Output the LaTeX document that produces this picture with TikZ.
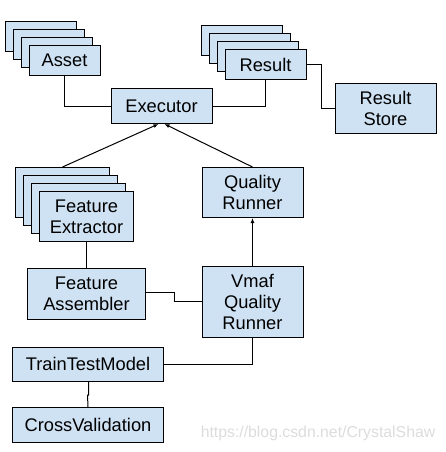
\documentclass[tikz,border=0pt]{standalone}
\usepackage{fontspec}
\setmainfont{Liberation Sans}
\usetikzlibrary{arrows.meta}
\definecolor{boxfill}{HTML}{CFE2F3}
\definecolor{wm}{HTML}{DCDCDC}
\begin{document}
\begin{tikzpicture}[x=1pt,y=-1pt,
  box/.style={draw=black,fill=boxfill,line width=1pt,rectangle,inner sep=0pt,align=center,
    font=\fontsize{18.3}{21}\selectfont},
  conn/.style={line width=1pt},
  arr/.style={line width=1pt,-{Latex[length=5pt,width=4pt]}}]
\useasboundingbox (0,0) rectangle (445,452);
% Asset stack
\node[box,minimum width=71pt,minimum height=30pt] (asset3) at (40.5,36.5) {};
\node[box,minimum width=71pt,minimum height=30pt] (asset2) at (48.5,44.5) {};
\node[box,minimum width=71pt,minimum height=30pt] (asset1) at (56.5,52.5) {};
\node[box,minimum width=71pt,minimum height=30pt] (asset) at (64.5,60.5) {Asset};
% Executor
\node[box,minimum width=101pt,minimum height=35pt] (exec) at (161.5,106) {Executor};
% Result stack
\node[box,minimum width=81pt,minimum height=30pt] (res3) at (241.5,40.5) {};
\node[box,minimum width=81pt,minimum height=30pt] (res2) at (249.5,48.5) {};
\node[box,minimum width=81pt,minimum height=30pt] (res1) at (257.5,56.5) {};
\node[box,minimum width=81pt,minimum height=30pt] (res) at (265.5,64.5) {Result};
% Result store
\node[box,minimum width=101pt,minimum height=50pt] (store) at (385.5,108.5) {Result\\Store};
% Feature extractor stack
\node[box,minimum width=94pt,minimum height=50pt] (fe3) at (62.5,192.5) {};
\node[box,minimum width=94pt,minimum height=50pt] (fe2) at (70.5,200.5) {};
\node[box,minimum width=94pt,minimum height=50pt] (fe1) at (78.5,208.5) {};
\node[box,minimum width=94pt,minimum height=50pt] (fe) at (86.5,216.5) {Feature\\Extractor};
% Feature assembler
\node[box,minimum width=118pt,minimum height=51pt] (fa) at (86.5,294) {Feature\\Assembler};
% Quality runner
\node[box,minimum width=101pt,minimum height=50pt] (qr) at (252.5,192.5) {Quality\\Runner};
% Vmaf quality runner
\node[box,minimum width=101pt,minimum height=71pt] (vmaf) at (252.5,301.5) {Vmaf\\Quality\\Runner};
% TrainTestModel
\node[box,minimum width=151pt,minimum height=34pt] (ttm) at (88,364) {TrainTestModel};
% CrossValidation
\node[box,minimum width=151pt,minimum height=35pt] (cv) at (88,425) {CrossValidation};
% connectors
\draw[conn] (asset.south) |- (exec.west);
\draw[conn] (res.south) |- (exec.east);
\draw[conn] (res.east) -- ++(14.5,0) |- (store.west);
\draw[arr] (fe3.north) -- ([xshift=-3pt]exec.south);
\draw[arr] (qr.north) -- ([xshift=3pt]exec.south);
\draw[arr] (vmaf.north) -- (qr.south);
\draw[conn] (fe.south) -- (fa.north);
\draw[conn] ([yshift=1.3pt]fa.east) -- ++(28,0) |- (vmaf.west);
\draw[conn] (vmaf.south) |- (ttm.east);
\draw[conn] ([xshift=0.5pt]ttm.south) -- ++(0,13.5) -- ++(-1,0) -- (cv.north);
% watermark
\node[text=wm,font=\fontsize{15.8}{18}\selectfont,inner sep=0pt] (wmark) at (318,433) {https://blog.csdn.net/CrystalShaw};
\end{tikzpicture}
\end{document}
